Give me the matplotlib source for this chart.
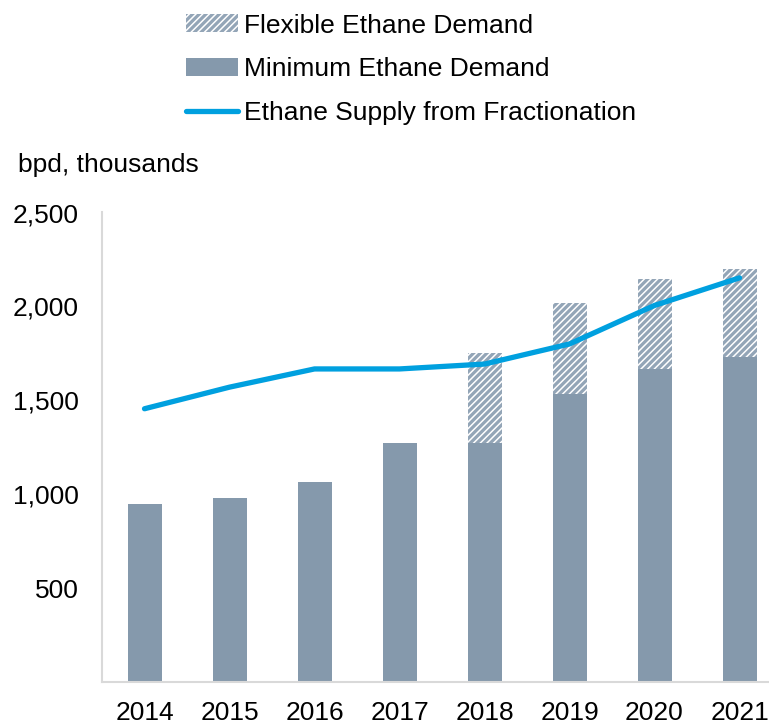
import matplotlib
matplotlib.use("Agg")
import matplotlib.pyplot as plt
from matplotlib.patches import Patch
from matplotlib.lines import Line2D

years = ["2014", "2015", "2016", "2017", "2018", "2019", "2020", "2021"]
min_demand = [950, 980, 1065, 1275, 1270, 1536, 1665, 1730]
flex_demand = [0, 0, 0, 0, 480, 484, 480, 468]
supply = [1455, 1570, 1667, 1667, 1693, 1800, 2005, 2152]
yticks = [500, 1000, 1500, 2000, 2500]
ytick_labels = ["500", "1,000", "1,500", "2,000", "2,500"]

plt.rcParams['font.family'] = ['Liberation Sans', 'DejaVu Sans']
plt.rcParams['hatch.linewidth'] = 2.3

bar_color = "#8599AC"
hatch_color = "#93A5B7"
line_color = "#00A0DF"
FS = 19

fig = plt.figure(figsize=(7.69, 7.26), dpi=100)
ax = fig.add_axes([102/769, 44/726, 680/769, 469.5/726])

x = list(range(len(years)))
ax.bar(x, min_demand, width=0.4, color=bar_color, linewidth=0, zorder=2)
flex_x = [i for i, f in enumerate(flex_demand) if f > 0]
ax.bar(flex_x, [flex_demand[i] for i in flex_x], bottom=[min_demand[i] for i in flex_x],
       width=0.4, facecolor="white", edgecolor=hatch_color, hatch="/////", linewidth=0, zorder=2)
ax.plot(x, supply, color=line_color, linewidth=3.8, solid_capstyle="round",
        solid_joinstyle="round", zorder=3)

ax.set_xlim(-0.5, 7.5)
ax.set_ylim(0, 2500)
ax.set_xticks(x)
ax.set_xticklabels(years, fontsize=FS)
ax.set_yticks(yticks)
ax.set_yticklabels(ytick_labels, fontsize=FS)
ax.tick_params(axis='x', length=0, pad=14)
ax.tick_params(axis='y', length=0, pad=17)
for s in ["top", "right"]:
    ax.spines[s].set_visible(False)
for s in ["left", "bottom"]:
    ax.spines[s].set_color("#D9D9D9")
    ax.spines[s].set_linewidth(1.5)

fig.text(18/769, 1 - 165/726, "bpd, thousands", fontsize=FS, ha="left", va="center")

handles = [
    Patch(facecolor="white", edgecolor=hatch_color, hatch="/////", linewidth=0),
    Patch(facecolor=bar_color, linewidth=0),
    Line2D([0], [0], color=line_color, linewidth=3.8, solid_capstyle="round"),
]
labels = ["Flexible Ethane Demand", "Minimum Ethane Demand", "Ethane Supply from Fractionation"]
leg = fig.legend(handles, labels, loc="upper left", bbox_to_anchor=(175/769, 1 - 3/726),
                 frameon=False, fontsize=FS, handlelength=2.0, handleheight=0.65,
                 handletextpad=0.22, labelspacing=0.75, borderaxespad=0)

fig.savefig("out.png", dpi=100)
